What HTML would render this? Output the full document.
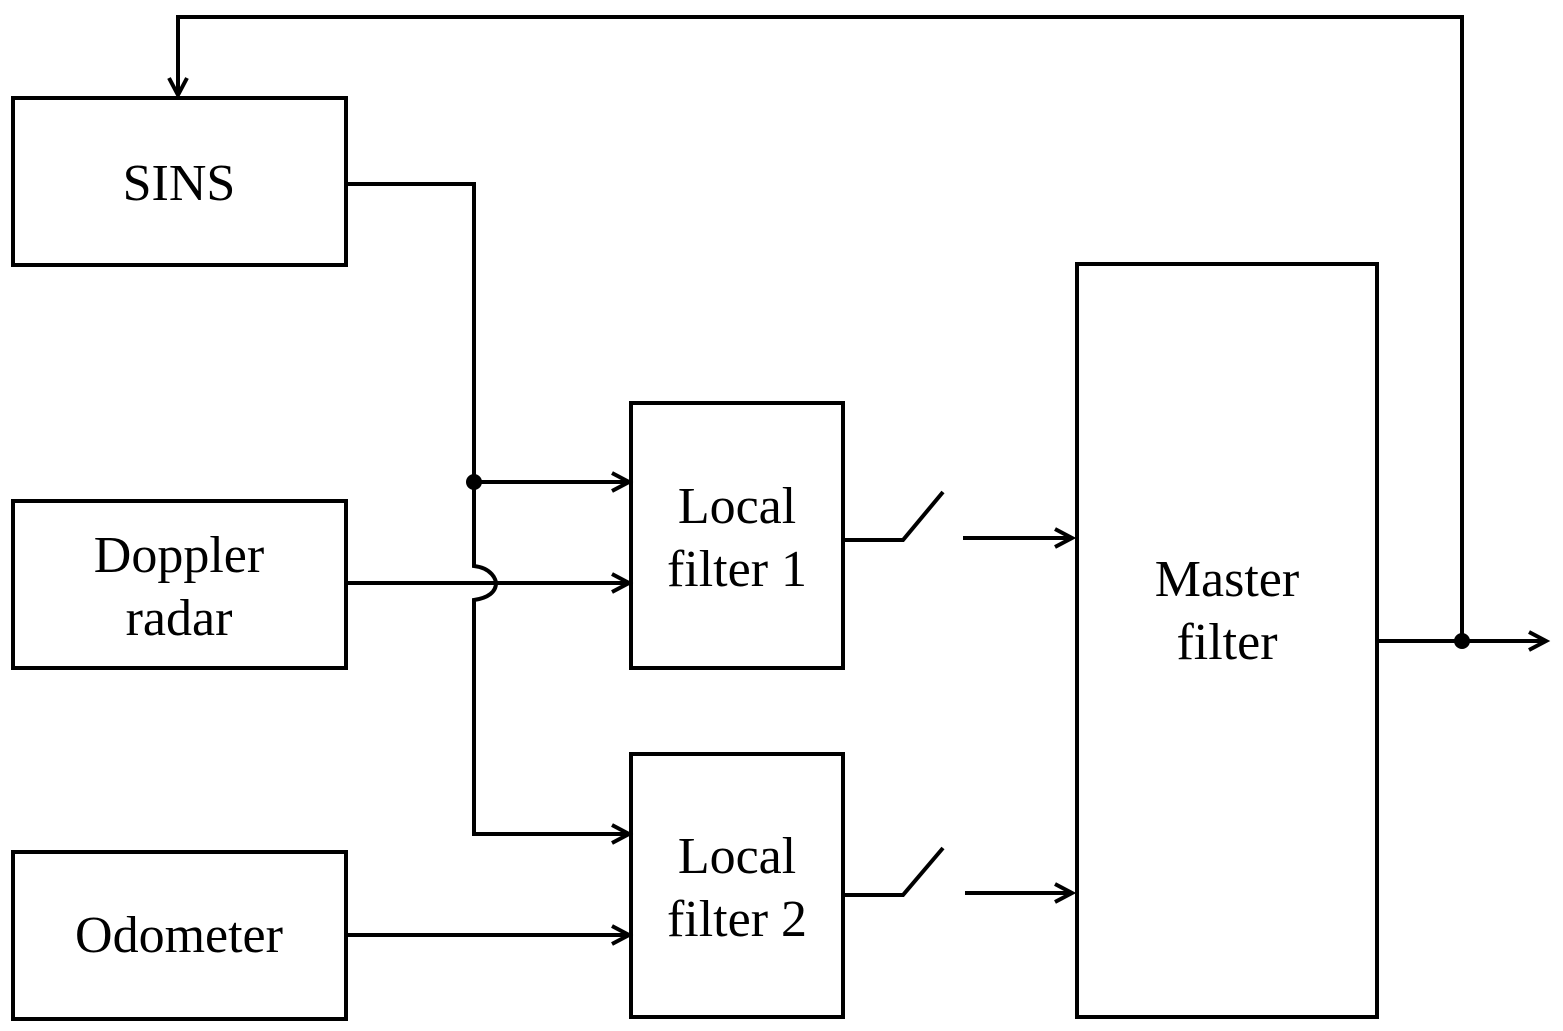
<!DOCTYPE html>
<html><head><meta charset="utf-8"><style>
html,body{margin:0;padding:0;background:#fff;}
svg{display:block;}
text{font-family:"Liberation Serif",serif;font-size:52px;fill:#000;}
</style></head><body>
<svg width="1563" height="1031" viewBox="0 0 1563 1031" xmlns="http://www.w3.org/2000/svg">
<g fill="none" stroke="#000" stroke-width="4">
<rect x="13" y="98" width="333" height="167"/>
<rect x="13" y="501" width="333" height="167"/>
<rect x="13" y="852" width="333" height="167"/>
<rect x="631" y="403" width="212" height="265"/>
<rect x="631" y="754" width="212" height="263"/>
<rect x="1077" y="264" width="300" height="753"/>
</g>
<g fill="none" stroke="#000" stroke-width="4">
<path d="M346 184 H474 V566 C492 568 496 580 496 583 C496 592 488 598 474 600 V834 H629"/>
<path d="M474 482 H629"/>
<path d="M346 583 H629"/>
<path d="M346 935 H629"/>
<path d="M843 540 H903 L943 492"/>
<path d="M963 538 H1072"/>
<path d="M843 895 H903 L943 848"/>
<path d="M965 893 H1072"/>
<path d="M1377 641 H1546"/>
<path d="M1462 641 V17 H178 V95"/>
</g>
<g fill="none" stroke="#000" stroke-width="4" stroke-linejoin="miter">
<path d="M612 473 L629 482 L612 491"/>
<path d="M612 574 L629 583 L612 592"/>
<path d="M612 825 L629 834 L612 843"/>
<path d="M612 926 L629 935 L612 944"/>
<path d="M1055 529 L1072 538 L1055 547"/>
<path d="M1055 884 L1072 893 L1055 902"/>
<path d="M1529 632 L1546 641 L1529 650"/>
<path d="M169 78 L178 95 L187 78"/>
</g>
<circle cx="474" cy="482" r="8" fill="#000"/>
<circle cx="1462" cy="641" r="8" fill="#000"/>
<g text-anchor="middle">
<text x="179" y="200">SINS</text>
<text x="179" y="572">Doppler</text>
<text x="179" y="635">radar</text>
<text x="179" y="952">Odometer</text>
<text x="737" y="523">Local</text>
<text x="737" y="586">filter 1</text>
<text x="737" y="873">Local</text>
<text x="737" y="936">filter 2</text>
<text x="1227" y="596">Master</text>
<text x="1227" y="659">filter</text>
</g>
</svg>
</body></html>
